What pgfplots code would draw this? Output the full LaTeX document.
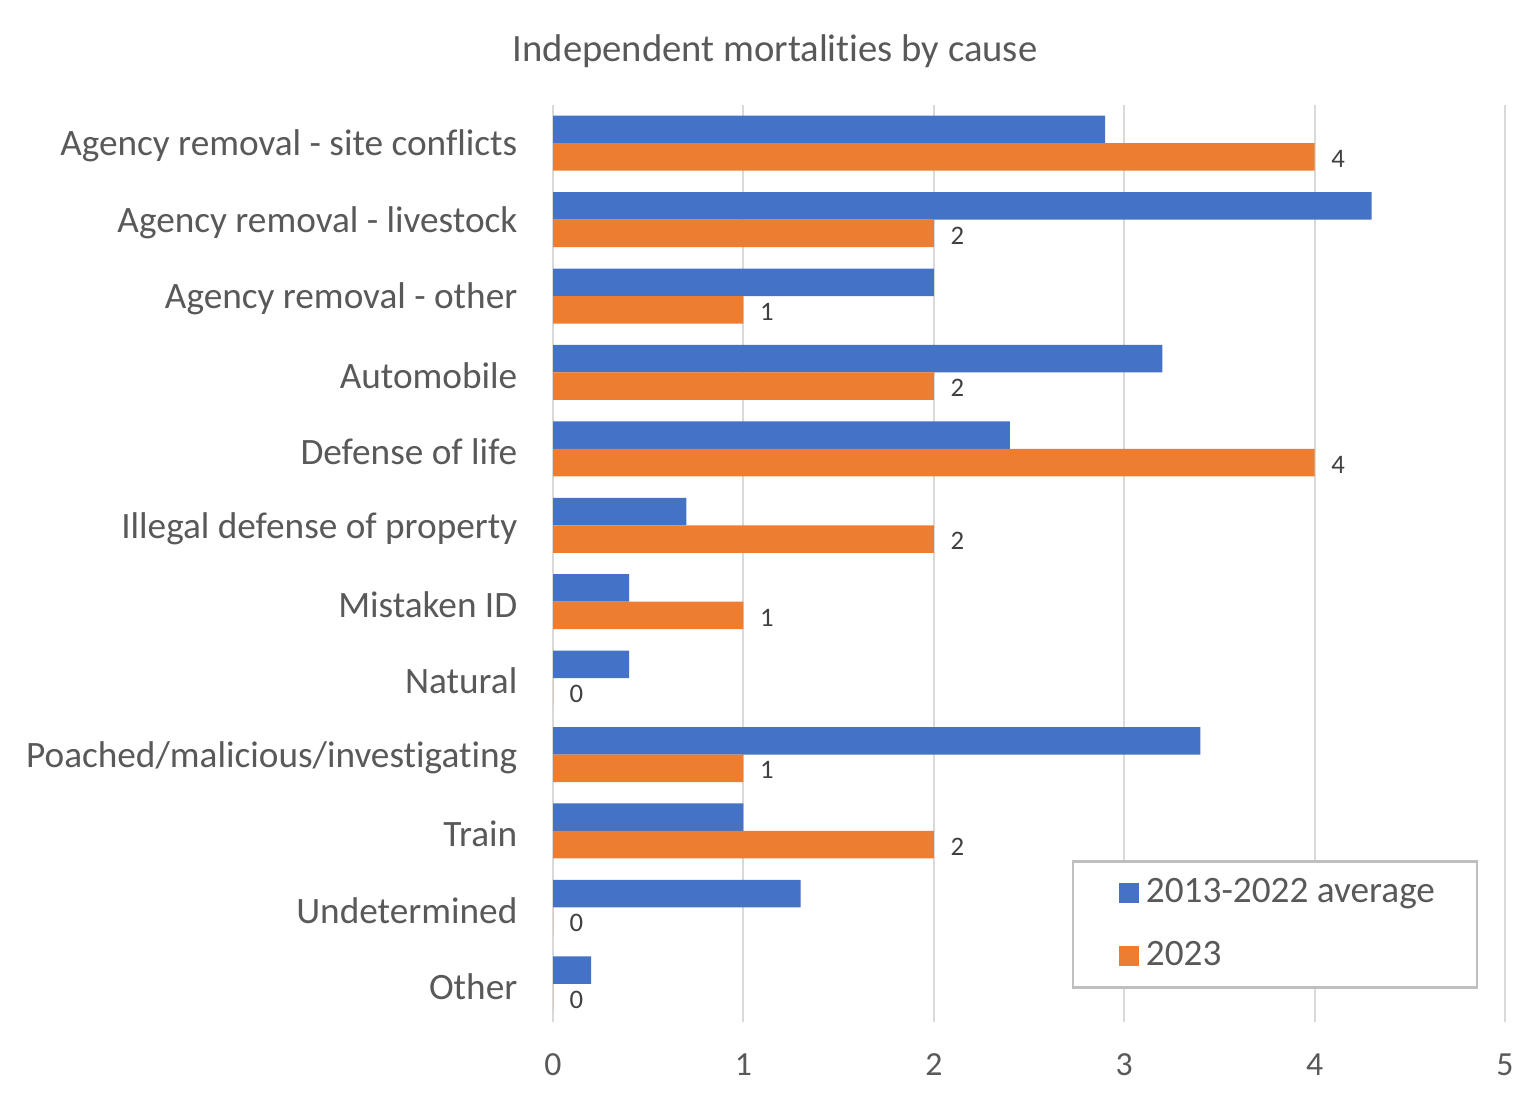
\documentclass[border=0pt]{standalone}
\usepackage{fontspec}
\setmainfont{Carlito}[Ligatures=NoCommon]
\usepackage{pgfplots}
\pgfplotsset{compat=1.18}
\definecolor{barblue}{HTML}{4472C4}
\definecolor{barorange}{HTML}{ED7D31}
\definecolor{txtgray}{HTML}{595959}
\definecolor{lblgray}{HTML}{404040}
\definecolor{gridgray}{HTML}{D9D9D9}
\definecolor{legframe}{HTML}{BFBFBF}

\begin{document}
\begin{tikzpicture}
\fill[white] (0,0) rectangle (15.37cm,10.95cm);
\path[use as bounding box] (0,0) rectangle (15.37cm,10.95cm);
\begin{axis}[
    at={(5.53cm,0.73cm)}, anchor=south west,
    scale only axis, width=9.52cm, height=9.17cm,
    xbar, bar width=2.75mm,
    xmin=0, xmax=5, ymin=-0.5, ymax=11.5,
    xtick={0,1,2,3,4,5},
    ytick={0,1,2,3,4,5,6,7,8,9,10,11},
    yticklabels={Other, Undetermined, Train, Poached/malicious/investigating,
        Natural, Mistaken ID, Illegal defense of property, Defense of life,
        Automobile, Agency removal - other, Agency removal - livestock,
        Agency removal - site conflicts},
    xmajorgrids,
    major grid style={gridgray, line width=0.6pt},
    axis line style={draw=none},
    major tick length=0pt,
    /pgf/number format/assume math mode=true,
    tick label style={text=txtgray},
    yticklabel style={font=\fontsize{10.6}{12}\selectfont, inner sep=0pt,
        xshift=-3.5mm, yshift=-0.3mm},
    xticklabel style={font=\fontsize{9.6}{11}\selectfont, inner sep=0pt, yshift=-3.1mm},
    legend cell align=left,
    legend style={at={(rel axis cs:0.972,0.036)}, anchor=south east,
        draw=legframe, line width=0.8pt, fill=white,
        font=\fontsize{10.6}{12}\selectfont, text=txtgray,
        inner xsep=3.5mm, inner ysep=1.0mm, row sep=1.9mm},
]

% 2013-2022 average
\addplot[fill=barblue, draw=none, bar shift=1.375mm,
    legend image code/.code={\path (-1.1mm,0);
        \fill[barblue] (0mm,-1mm) rectangle (2mm,1mm);}]
coordinates {
    (2.9,11) (4.3,10) (2.0,9) (3.2,8) (2.4,7) (0.7,6)
    (0.4,5) (0.4,4) (3.4,3) (1.0,2) (1.3,1) (0.2,0)
};
\addlegendentry{2013-2022 average}

% 2023
\addplot[fill=barorange, draw=none, bar shift=-1.375mm,
    legend image code/.code={\path (-1.1mm,0);
        \fill[barorange] (0mm,-1mm) rectangle (2mm,1mm);},
    nodes near coords,
    every node near coord/.append style={font=\fontsize{7.6}{9}\selectfont,
        text=lblgray, inner sep=0pt, anchor=west, xshift=1.6mm, yshift=-0.2mm}]
coordinates {
    (4,11) (2,10) (1,9) (2,8) (4,7) (2,6)
    (1,5) (0,4) (1,3) (2,2) (0,1) (0,0)
};
\addlegendentry{2023}

\end{axis}
\node[text=txtgray, font=\fontsize{11}{13}\selectfont] at (7.75cm,10.44cm)
    {Independent mortalities by cause};
\end{tikzpicture}
\end{document}
